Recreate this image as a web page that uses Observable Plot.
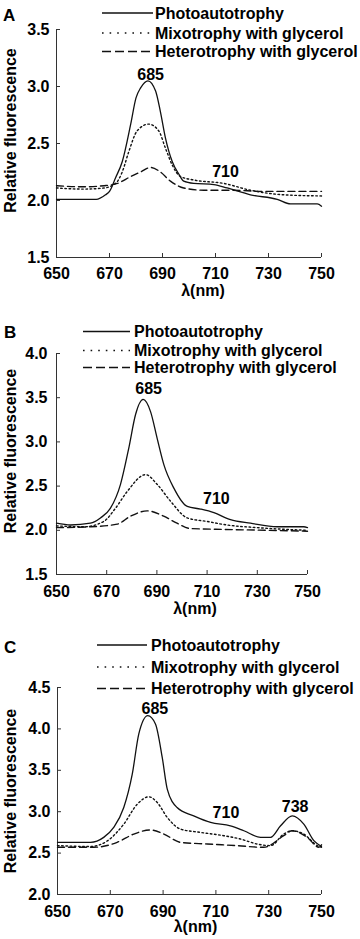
<!DOCTYPE html>
<html>
<head>
<meta charset="utf-8">
<script src="https://cdn.jsdelivr.net/npm/d3@7"></script>
<script src="https://cdn.jsdelivr.net/npm/@observablehq/plot@0.6"></script>
<style>
  html, body { margin: 0; padding: 0; background: #fff; }
  #root { position: relative; width: 360px; height: 939px; overflow: hidden; }
  .panel { position: absolute; left: 0; }
  #overlay { position: absolute; left: 0; top: 0; pointer-events: none; }
</style>
</head>
<body>
<div id="root"></div>
<script>
// ---------- data ----------
const seriesNames = ["Photoautotrophy", "Mixotrophy with glycerol", "Heterotrophy with glycerol"];
const xTicks = [650, 670, 690, 710, 730, 750];
const yTicksA = [1.5, 2.0, 2.5, 3.0, 3.5];
const yTicksB = [1.5, 2.0, 2.5, 3.0, 3.5, 4.0];
const yTicksC = [2.0, 2.5, 3.0, 3.5, 4.0, 4.5];

// Panel A  [wavelength nm, relative fluorescence]
const photoA = [[650,2.01],[665,2.01],[668.5,2.05],[670,2.08],[672.3,2.20],[674.8,2.34],[678,2.67],[680,2.90],[681.8,2.99],[684.5,3.05],[687.4,2.96],[689.2,2.78],[691.1,2.55],[693.7,2.34],[696.2,2.23],[698,2.17],[701.8,2.15],[709.4,2.14],[714.4,2.11],[723.2,2.05],[733.3,2.01],[738.3,1.97],[748.4,1.97],[750,1.95]];
const mixoA = [[650,2.11],[660,2.10],[668,2.11],[672.3,2.15],[674.8,2.25],[677.3,2.43],[680.4,2.61],[684.8,2.67],[688.6,2.61],[691.1,2.46],[693.7,2.31],[696.8,2.21],[701.8,2.18],[713.1,2.15],[723.2,2.09],[735.8,2.05],[750,2.04]];
const heteroA = [[650,2.13],[660,2.12],[668,2.13],[673,2.15],[678,2.21],[681.7,2.25],[685.5,2.29],[689.2,2.25],[693,2.17],[698,2.11],[705.6,2.09],[715.7,2.09],[728.2,2.08],[750,2.08]];
const peakLabelsA = ["685", "710"];
const peakNmA = [685.5, 713.8];
const peakValA = [3.105, 2.25];

// Panel B
const photoB = [[650,2.08],[655.6,2.06],[663.5,2.08],[667.5,2.14],[671.5,2.25],[675.5,2.52],[678.8,2.93],[681.5,3.31],[684.5,3.48],[687.5,3.34],[690.1,3.04],[692.8,2.74],[696.7,2.48],[702.1,2.27],[707.4,2.24],[712.7,2.20],[719.3,2.12],[727.3,2.08],[737.9,2.04],[748.5,2.04],[750,2.03]];
const mixoB = [[650,2.05],[660.9,2.04],[668.8,2.10],[673.5,2.25],[678.2,2.44],[685.5,2.63],[690.1,2.52],[695.4,2.33],[702.1,2.14],[710,2.10],[718,2.06],[730,2.03],[750,2.00]];
const heteroB = [[650,2.03],[663.5,2.04],[674.2,2.07],[679.5,2.16],[686.1,2.22],[692.7,2.16],[698,2.08],[703.3,2.02],[716.7,2.01],[733.9,2.00],[750,1.99]];
const peakLabelsB = ["685", "710"];
const peakNmB = [686.7, 713.7];
const peakValB = [3.60, 2.36];

// Panel C
const photoC = [[650,2.63],[662.5,2.63],[667.5,2.69],[671.3,2.81],[675.1,3.05],[678.3,3.45],[680.8,3.94],[684.2,4.16],[687.1,4.06],[689.7,3.65],[691.6,3.27],[695.3,3.05],[701.6,2.95],[708,2.87],[715.5,2.83],[720.6,2.77],[726.9,2.69],[730.7,2.69],[734.5,2.83],[738.9,2.95],[743.3,2.85],[747.1,2.65],[750,2.58]];
const mixoC = [[650,2.59],[662.5,2.58],[669,2.65],[675.1,2.85],[680.2,3.09],[684.6,3.18],[687.8,3.11],[691.6,2.93],[696.6,2.79],[704.2,2.75],[713,2.71],[719.3,2.67],[725.6,2.61],[730.7,2.59],[735.7,2.73],[738.9,2.77],[743.3,2.73],[748.4,2.59],[750,2.57]];
const heteroC = [[650,2.57],[663.7,2.57],[672.6,2.63],[678.9,2.73],[685.2,2.78],[690.3,2.73],[696.6,2.63],[706.7,2.61],[718.1,2.59],[728.1,2.57],[735.7,2.71],[738.9,2.77],[744.6,2.69],[749,2.57],[750,2.6]];
const peakLabelsC = ["685", "710", "738"];
const peakNmC = [686.9, 713.8, 740];
const peakValC = [4.24, 2.98, 3.06];

// ---------- styling / layout ----------
const FONT = "'Liberation Sans', Arial, Helvetica, sans-serif";
const dashes = [null, "1.6,2.6", "7,4"];
const legendDash = [null, "1.6,6", "9,4"];

const panels = [
  { letter: "A", top: 0, height: 305, mt: 29, mb: 48, ml: 56, mr: 39, yDomain: [1.5, 3.5], yTicks: yTicksA,
    series: [photoA, mixoA, heteroA], peaks: [peakLabelsA, peakNmA, peakValA],
    xLabelDy: 33, xLabelDx: 14, yLabelDy: -13, tickPad: 7, xTickDy: 14,
    legend: { x1: 102, x2: 153, tx: 155, ys: [13, 33, 51.5] }, letterPos: [3, 15] },
  { letter: "B", top: 310, height: 312, mt: 43, mb: 48, ml: 56, mr: 53, yDomain: [1.5, 4.0], yTicks: yTicksB,
    series: [photoB, mixoB, heteroB], peaks: [peakLabelsB, peakNmB, peakValB],
    xLabelDy: 34, xLabelDx: 13, yLabelDy: -13, tickPad: 9, xTickDy: 15,
    legend: { x1: 83, x2: 130, tx: 134, ys: [331.5, 350.5, 367.5] }, letterPos: [4, 332.5] },
  { letter: "C", top: 622, height: 317, mt: 65, mb: 45, ml: 57, mr: 39, yDomain: [2.0, 4.5], yTicks: yTicksC,
    series: [photoC, mixoC, heteroC], peaks: [peakLabelsC, peakNmC, peakValC],
    xLabelDy: 32, xLabelDx: 6, yLabelDy: 0, tickPad: 7, xTickDy: 15,
    legend: { x1: 97, x2: 147, tx: 151, ys: [645, 667, 688.5] }, letterPos: [4, 647.5] }
];

const root = document.getElementById("root");

panels.forEach(p => {
  const innerW = 360 - p.ml - p.mr;
  const innerH = p.height - p.mt - p.mb;
  const lineMarks = p.series.map((s, i) => Plot.line(s, {
    x: d => d[0], y: d => d[1],
    stroke: "#111", strokeWidth: i === 0 ? 1.3 : 1.4,
    strokeDasharray: dashes[i] || undefined,
    curve: "monotone-x"
  }));
  const peakData = p.peaks[0].map((t, i) => ({ t, x: p.peaks[1][i], y: p.peaks[2][i] }));
  const chart = Plot.plot({
    width: 360, height: p.height,
    marginTop: p.mt, marginBottom: p.mb, marginLeft: p.ml, marginRight: p.mr,
    style: { fontFamily: FONT, fontSize: "16px", fontWeight: "bold", color: "#000", background: "transparent", overflow: "visible" },
    x: { domain: [650, 750] },
    y: { domain: p.yDomain },
    marks: [
      Plot.axisX({ ticks: xTicks, tickSize: 0, tickPadding: 0, dy: p.xTickDy - 4, label: null, fontSize: 16, fill: "#000", tickFormat: d => String(d) }),
      Plot.axisY({ ticks: p.yTicks, tickSize: 0, tickPadding: p.tickPad, label: null, fontSize: 16, fill: "#000", tickFormat: d3.format(".1f") }),
      Plot.tickX(xTicks, { x: d => d, insetTop: innerH - 4, stroke: "#333", strokeWidth: 1 }),
      Plot.tickY(p.yTicks, { y: d => d, insetRight: innerW - 4, stroke: "#333", strokeWidth: 1 }),
      Plot.ruleX([650], { stroke: "#333", strokeWidth: 1 }),
      Plot.ruleY([p.yDomain[0]], { stroke: "#333", strokeWidth: 1 }),
      ...lineMarks,
      Plot.text(peakData, { x: "x", y: "y", text: "t", fontSize: 16, fontWeight: "bold", fill: "#000" }),
      Plot.text(["λ(nm)"], { frameAnchor: "bottom", text: d => d, lineAnchor: "middle", textAnchor: "middle", dy: p.xLabelDy, dx: p.xLabelDx, fontSize: 16, fontWeight: "bold", fill: "#000" }),
      Plot.text(["Relative fluorescence"], { frameAnchor: "left", text: d => d, rotate: -90, textAnchor: "middle", lineAnchor: "middle", dx: -(p.ml - 10), dy: p.yLabelDy, fontSize: 16, fontWeight: "bold", fill: "#000" })
    ]
  });
  chart.classList.add("panel");
  chart.style.position = "absolute";
  chart.style.top = p.top + "px";
  chart.style.left = "0px";
  root.appendChild(chart);
});

// ---------- legends & panel letters (overlay) ----------
const overlay = d3.select(root).append("svg")
  .attr("id", "overlay").attr("width", 360).attr("height", 939)
  .style("font-family", FONT).style("font-weight", "bold");

panels.forEach(p => {
  overlay.append("text").attr("x", p.letterPos[0]).attr("y", p.letterPos[1])
    .attr("dominant-baseline", "central").attr("font-size", 17).attr("fill", "#000").text(p.letter);
  seriesNames.forEach((name, i) => {
    const y = p.legend.ys[i];
    const ln = overlay.append("line").attr("x1", p.legend.x1).attr("x2", p.legend.x2)
      .attr("y1", y).attr("y2", y).attr("stroke", "#111").attr("stroke-width", 1.4);
    if (legendDash[i]) ln.attr("stroke-dasharray", legendDash[i]);
    overlay.append("text").attr("x", p.legend.tx).attr("y", y)
      .attr("dominant-baseline", "central").attr("font-size", 16).attr("fill", "#000").text(name);
  });
});
</script>
</body>
</html>
